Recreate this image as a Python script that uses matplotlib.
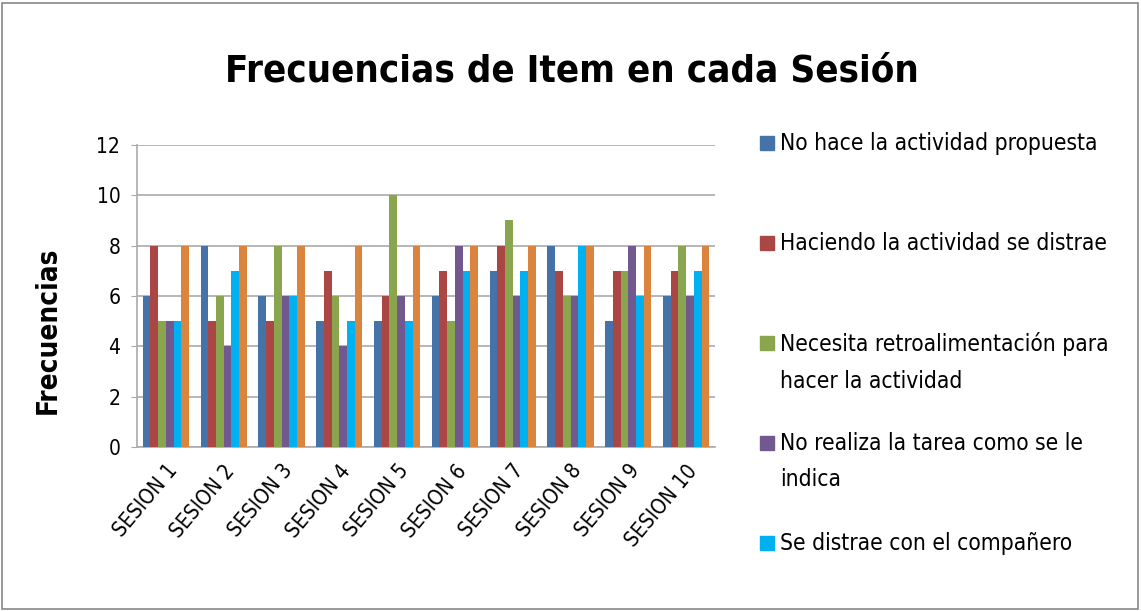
import numpy as np
import matplotlib
matplotlib.use('Agg')
import matplotlib.pyplot as plt
from matplotlib.patches import Rectangle

# Data
sessions = ['SESION 1', 'SESION 2', 'SESION 3', 'SESION 4', 'SESION 5',
            'SESION 6', 'SESION 7', 'SESION 8', 'SESION 9', 'SESION 10']
no_hace = [6, 8, 6, 5, 5, 6, 7, 8, 5, 6]
se_distrae = [8, 5, 5, 7, 6, 7, 8, 7, 7, 7]
necesita_retro = [5, 6, 8, 6, 10, 5, 9, 6, 7, 8]
no_realiza = [5, 4, 6, 4, 6, 8, 6, 6, 8, 6]
companero = [5, 7, 6, 5, 5, 7, 7, 8, 6, 7]
sexta_serie = [8, 8, 8, 8, 8, 8, 8, 8, 8, 8]

labels = ['No hace la actividad propuesta',
          'Haciendo la actividad se distrae',
          'Necesita retroalimentación para\nhacer la actividad',
          'No realiza la tarea como se le\nindica',
          'Se distrae con el compañero']
colors = ['#4572A7', '#AA4643', '#89A54E', '#71588F', '#00B0F0', '#DB843D']

plt.rcParams['font.family'] = ['DejaVu Sans']
FONT = dict(family='DejaVu Sans', stretch='condensed')

fig = plt.figure(figsize=(11.41, 6.11), dpi=100)
ax = fig.add_axes([137 / 1141, 1 - 447 / 611, 578 / 1141, 302 / 611])

series = [no_hace, se_distrae, necesita_retro, no_realiza, companero, sexta_serie]
x = np.arange(len(sessions))
width = 0.8 / len(series)
for i, vals in enumerate(series):
    ax.bar(x - 0.4 + width * (i + 0.5), vals, width, color=colors[i], zorder=3)

ax.set_xlim(-0.5, len(sessions) - 0.5)
ax.set_ylim(0, 12)
ax.set_yticks(range(0, 13, 2))
ax.set_yticklabels([str(v) for v in range(0, 13, 2)], fontsize=15, **FONT)
ax.set_xticks(x)
ax.set_xticklabels(sessions, rotation=50, ha='right', rotation_mode='anchor',
                   fontsize=15, **FONT)
ax.tick_params(axis='x', length=0, pad=10)
ax.tick_params(axis='y', length=4, color='#aaaaaa', pad=8)
ax.grid(True, axis='y', color='#aaaaaa', linewidth=1.2, zorder=0)
ax.set_axisbelow(True)
for s in ['top', 'right']:
    ax.spines[s].set_visible(False)
for s in ['left', 'bottom']:
    ax.spines[s].set_color('#aaaaaa')
    ax.spines[s].set_linewidth(1.2)

fig.text(48 / 1141, 1 - 330 / 611, 'Frecuencias', rotation=90, ha='center', va='center',
         fontsize=20, fontweight='bold', **FONT)

fig.text(572 / 1141, 1 - 72 / 611, 'Frecuencias de Item en cada Sesión',
         ha='center', va='center', fontsize=27.5, fontweight='bold', **FONT)

# legend drawn by hand (only five entries shown in the original)
leg_y = [143, 243, 343, 443, 543]
for lab, col, yy in zip(labels, colors, leg_y):
    fig.patches.append(Rectangle((760 / 1141, 1 - (yy + 7) / 611), 14 / 1141, 14 / 611,
                                 transform=fig.transFigure, color=col))
    fig.text(780 / 1141, 1 - (yy - 11) / 611, lab, ha='left', va='top',
             fontsize=16.3, linespacing=1.75, **FONT)

# outer border
fig.patches.append(Rectangle((2 / 1141, 2 / 611), 1136 / 1141, 606 / 611,
                             transform=fig.transFigure, fill=False,
                             edgecolor='#888888', linewidth=1.2))

plt.savefig('out.png', dpi=100)
